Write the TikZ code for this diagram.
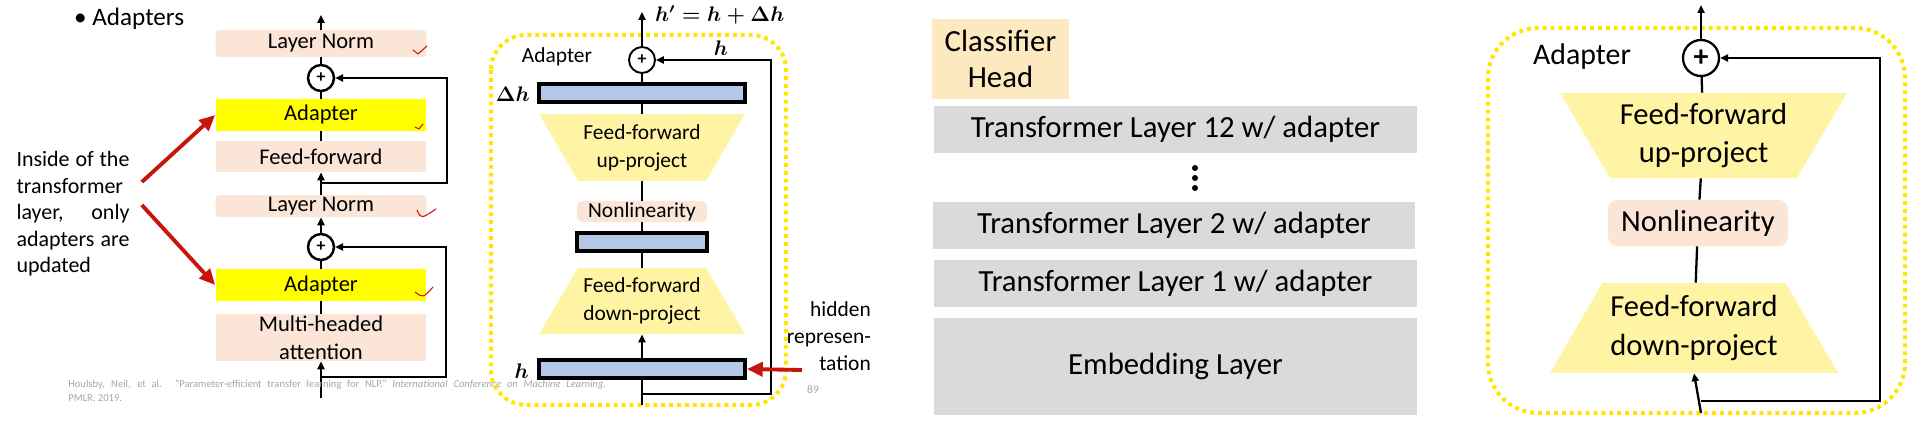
\documentclass[tikz,border=0pt]{standalone}
\usepackage{fontspec}
\setmainfont{Carlito}
\usepackage{amsmath,amssymb}
\usepackage{tikz}
\usetikzlibrary{arrows.meta,positioning,calc}
\usepackage{xcolor}
\definecolor{peach}{HTML}{FBE5D6}
\definecolor{adyellow}{HTML}{FFFF00}
\definecolor{ffyellow}{HTML}{FFF4A3}
\definecolor{barblue}{HTML}{B4C7E7}
\definecolor{layergray}{HTML}{DADADA}
\definecolor{clsorange}{HTML}{FDE9C0}
\definecolor{dotyellow}{HTML}{FFE600}
\definecolor{arrowred}{HTML}{C8150C}
\definecolor{citegray}{HTML}{A6A6A6}

\begin{document}
\begin{tikzpicture}[x=0.02cm, y=-0.02cm,
  lbox/.style={fill=peach, rounded corners=2pt, minimum width=4.22cm, inner sep=0pt, font=\fontsize{12.8}{14}\selectfont},
  abox/.style={fill=adyellow, minimum width=4.22cm, minimum height=0.64cm, inner sep=0pt, font=\fontsize{12.8}{14}\selectfont},
  plus/.style={circle, draw, fill=white, inner sep=0pt, font=\bfseries},
  ln/.style={line width=1.4pt},
  arr/.style={line width=1.4pt, -{Triangle[length=4.5pt,width=4pt]}},
  bar/.style={draw, line width=2.2pt, fill=barblue, inner sep=0pt, minimum height=0.36cm},
  uptrap/.style={align=center, inner sep=0pt, path picture={\fill[ffyellow] (path picture bounding box.north west) -- (path picture bounding box.north east) -- ([xshift=-#1]path picture bounding box.south east) -- ([xshift=#1]path picture bounding box.south west) -- cycle;}},
  dntrap/.style={align=center, inner sep=0pt, path picture={\fill[ffyellow] (path picture bounding box.south west) -- (path picture bounding box.south east) -- ([xshift=-#1]path picture bounding box.north east) -- ([xshift=#1]path picture bounding box.north west) -- cycle;}},
  gbox/.style={fill=layergray, minimum width=9.66cm, minimum height=0.94cm, inner sep=0pt, font=\fontsize{17.5}{20}\selectfont},
  dotbox/.style={draw=dotyellow, line width=2.3pt, dash pattern=on 2.2pt off 2.3pt},
  redarr/.style={draw=arrowred, line width=2.2pt, -{Triangle[length=9pt,width=8pt]}},
  tick/.style={draw=arrowred, line width=0.6pt, line join=round, line cap=round}
]
  \useasboundingbox (0,0) rectangle (1921,430);

  % left: transformer layer
  \node[anchor=west, font=\fontsize{14.3}{17}\selectfont] (title) at (68,19) {\textbullet\ Adapters};
  \node[lbox, minimum height=0.54cm] (ln2) at (321,43.5) {Layer Norm};
  \node[plus, line width=1.4pt, minimum size=0.52cm] (add2) at (321,78) {+};
  \node[abox] (ad2) at (321,115) {Adapter};
  \node[lbox, rounded corners=0pt, minimum height=0.62cm] (ff) at (321,156.5) {Feed-forward};
  \node[lbox, minimum height=0.44cm] (ln1) at (321,206) {Layer Norm};
  \node[plus, line width=1.4pt, minimum size=0.52cm] (add1) at (321,247) {+};
  \node[abox] (ad1) at (321,285) {Adapter};
  \node[lbox, rounded corners=0pt, minimum height=0.94cm, align=center, font=\fontsize{12.8}{16}\selectfont] (mha) at (321,337.5) {Multi-headed\\attention};
  \coordinate (in1) at (321,398);
  \coordinate (top1) at (321,15);

  \draw[arr] (ln2) -- (top1);
  \draw[ln] (add2) -- (ln2);
  \draw[ln] (ad2) -- (add2);
  \draw[ln] (ff) -- (ad2);
  \draw[arr] (ln1.north) -- (ff.south);
  \draw[arr] (321,183) -- (447,183) -- (447,78) -- (add2.east);
  \draw[arr] (add1) -- (ln1);
  \draw[ln] (ad1) -- (add1);
  \draw[ln] (mha) -- (ad1);
  \draw[arr] (in1) -- (mha.south);
  \draw[arr] (321,377) -- (446,377) -- (446,247) -- (add1.east);

  \draw[tick] (413,50) -- (418,54) -- (427,46);
  \draw[tick] (415,127) -- (419,129) -- (423,124);
  \draw[tick] (417,210) .. controls (421,219) .. (436,209);
  \draw[tick] (415,292) .. controls (423,298) .. (433,287);

  \node[text width=2.26cm, align=justify, inner sep=0pt, font=\fontsize{12.5}{15.1}\selectfont] (inside) at (73,214)
    {Inside of the\linebreak transformer\linebreak layer, only\linebreak adapters are\linebreak updated};
  \draw[redarr] ([xshift=0.24cm, yshift=0.64cm]inside.east) -- (ad2.west);
  \draw[redarr] ([xshift=0.24cm, yshift=0.18cm]inside.east) -- (ad1.west);

  \node[anchor=north west, text width=10.76cm, align=justify, inner sep=0pt, text=citegray, font=\fontsize{6}{8}\selectfont] (cite) at (68,380)
    {Houlsby, Neil, et al. "Parameter-efficient transfer learning for NLP." \textit{International Conference on Machine Learning.}\linebreak PMLR, 2019.};

  % middle: adapter detail
  \draw[dotbox, rounded corners=0.7cm] (491,35) rectangle (786,405);
  \node[font=\fontsize{12.2}{14}\selectfont] (adlab) at (557,57) {Adapter};
  \node[plus, line width=1.1pt, minimum size=0.52cm] (add3) at (642,60) {+};
  \node[bar, minimum width=4.12cm] (dh) at (642,93) {};
  \node[uptrap=0.78cm, minimum width=4.12cm, minimum height=1.34cm, font=\fontsize{12.2}{16}\selectfont] (up) at (642,147.5) {Feed-forward\\up-project};
  \node[fill=peach, rounded corners=3pt, minimum width=2.6cm, minimum height=0.42cm, inner sep=0pt, font=\fontsize{12.2}{14}\selectfont] (nl) at (642,211.5) {Nonlinearity};
  \node[bar, minimum width=2.6cm] (mb) at (642,242) {};
  \node[dntrap=0.78cm, minimum width=4.12cm, minimum height=1.32cm, font=\fontsize{12.2}{16}\selectfont] (dn) at (642,301) {Feed-forward\\down-project};
  \node[bar, minimum width=4.12cm] (hb) at (642,369) {};
  \coordinate (in2) at (642,405);
  \coordinate (top2) at (642,12);

  \node[anchor=west, font=\fontsize{11.5}{14}\selectfont] (eq) at (649,15) {$\boldsymbol{h' = h + \Delta h}$};
  \node[font=\fontsize{12.5}{14}\selectfont] (hskip) at (721,48) {$\boldsymbol{h}$};
  \node[anchor=east, font=\fontsize{12.5}{14}\selectfont] (dhlab) at (536,94) {$\boldsymbol{\Delta h}$};
  \node[anchor=east, font=\fontsize{12.5}{14}\selectfont] (hlab) at (535,371) {$\boldsymbol{h}$};

  \draw[arr, line width=1.1pt] (add3) -- (top2);
  \draw[ln, line width=1.1pt] (dh) -- (add3);
  \draw[ln, line width=1.1pt] (up) -- (dh);
  \draw[ln, line width=1.1pt] (nl) -- (up);
  \draw[ln, line width=1.1pt] (mb) -- (nl);
  \draw[ln, line width=1.1pt] (dn) -- (mb);
  \draw[arr, line width=1.1pt] (hb.north) -- (dn.south);
  \draw[ln, line width=1.1pt] (in2) -- (hb);
  \draw[arr, line width=1.1pt] (642,394) -- (771,394) -- (771,60) -- (add3.east);

  \node[anchor=east, align=right, font=\fontsize{12.2}{15.3}\selectfont] (hid) at (877,336) {hidden\\represen-\\tation};
  \coordinate (hidtip) at (802,370);
  \draw[redarr] (hidtip) -- (hb.east);
  \node[text=citegray, font=\fontsize{6.5}{8}\selectfont] (page) at (813,390) {89};

  % centre: layer stack
  \node[fill=clsorange, minimum width=2.74cm, minimum height=1.6cm, align=center, inner sep=0pt, font=\fontsize{17.5}{20}\selectfont] (cls) at (1000.5,59) {Classifier\\Head};
  \node[gbox] (l12) at (1175.5,129.5) {Transformer Layer 12 w/ adapter};
  \foreach \y in {168,178,188} \fill (1195,\y) circle (0.06cm);
  \node[gbox] (l2) at (1174,225.5) {Transformer Layer 2 w/ adapter};
  \node[gbox] (l1) at (1175.5,283.5) {Transformer Layer 1 w/ adapter};
  \node[gbox, minimum height=1.94cm] (emb) at (1175.5,366.5) {Embedding Layer};

  % right: adapter
  \draw[dotbox, rounded corners=1cm] (1488,28) rectangle (1905,413);
  \node[font=\fontsize{17}{20}\selectfont] (adlab2) at (1582,57) {Adapter};
  \node[plus, line width=1.3pt, minimum size=0.72cm, font=\bfseries\fontsize{17}{20}\selectfont] (add4) at (1701,58) {+};
  \node[uptrap=1cm, minimum width=5.74cm, minimum height=1.7cm, font=\fontsize{17.4}{22}\selectfont] (up2) at (1703.5,135.5) {Feed-forward\\up-project};
  \node[fill=peach, rounded corners=5pt, minimum width=3.6cm, minimum height=0.92cm, inner sep=0pt, font=\fontsize{17.4}{20}\selectfont] (nl2) at (1698,223) {Nonlinearity};
  \node[dntrap=1.05cm, minimum width=5.76cm, minimum height=1.8cm, font=\fontsize{17.4}{22}\selectfont] (dn2) at (1694,328) {Feed-forward\\down-project};
  \coordinate (in3) at (1701,413);
  \coordinate (top3) at (1701,5);

  \draw[arr, line width=1.3pt] (add4) -- (top3);
  \draw[ln, line width=1.3pt] (up2) -- (add4);
  \draw[ln, line width=1.3pt] (nl2) -- (up2);
  \draw[ln, line width=1.3pt] (dn2) -- (nl2);
  \draw[arr, line width=1.3pt] (in3) -- (dn2.south);
  \draw[arr, line width=1.3pt] (1701,401) -- (1880,401) -- (1880,58) -- (add4.east);
\end{tikzpicture}
\end{document}
